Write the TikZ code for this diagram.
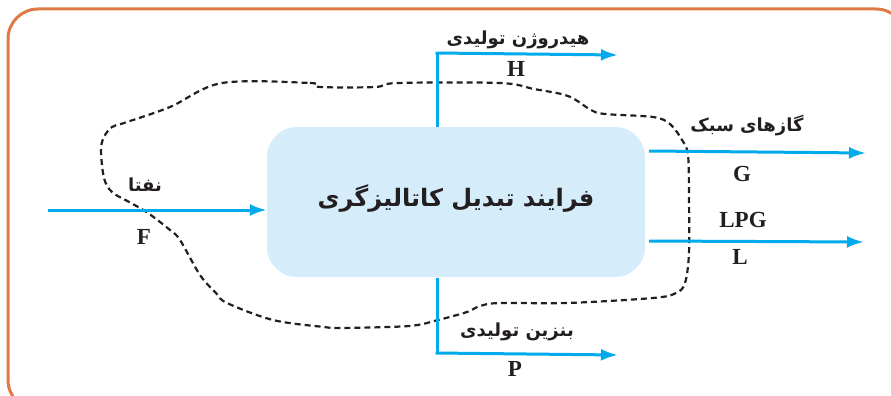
\documentclass[tikz,border=0pt]{standalone}
\usepackage{fontspec}
\setmainfont{Liberation Serif}
\newfontfamily\arabicfont[Script=Arabic]{DejaVu Sans}
\newfontfamily\arabicbold[Script=Arabic]{DejaVu Sans Bold}
\TeXXeTstate=1
\usetikzlibrary{arrows.meta}
\definecolor{frameorange}{RGB}{224,122,68}
\definecolor{boxblue}{RGB}{213,236,250}
\definecolor{flowcyan}{RGB}{0,170,235}
\definecolor{txt}{RGB}{35,31,32}
\tikzset{
  flow/.style={draw=flowcyan, line width=3pt, -{Latex[length=17pt,width=12pt]}},
  flowline/.style={draw=flowcyan, line width=3pt},
  fatxt/.style={text=txt, font=\arabicbold\fontsize{18}{22}\selectfont, inner sep=0pt},
  latxt/.style={text=txt, font=\bfseries\fontsize{23}{26}\selectfont, inner sep=0pt},
  boundary/.style={draw=txt, line width=2.2pt, dash pattern=on 6pt off 4pt},
}
\begin{document}
\begin{tikzpicture}[x=1pt,y=-1pt]
\useasboundingbox (0,0) rectangle (891,396);
\begin{scope}
\clip (0,0) rectangle (891,396);
\draw[frameorange, line width=3pt, rounded corners=30pt] (8,9) rectangle (906,410);
\end{scope}
% process box
\node[fill=boxblue, rounded corners=30pt, minimum width=378pt, minimum height=150pt, inner sep=0pt] (box) at (456,202) {};
\node[text=txt, font=\arabicbold\fontsize{24}{28}\selectfont, inner sep=0pt] (boxtxt) at (456,199) {\beginR فرایند تبدیل کاتالیزگری\endR};
% dashed control boundary
\draw[boundary] plot[smooth cycle, tension=0.55] coordinates {
 (222,83) (310,83) (320,87) (375,87) (398,83) (500,83) (534,89) (568,96)
 (591,110) (605,114) (653,117) (670,124) (682,140) (688,155) (689,200)
 (689,253) (685,283) (676,293) (653,298) (567,303) (500,303) (480,306)
 (467,312) (438,320) (409,326) (341,328) (324,327) (273,320) (227,303)
 (216,293) (200,275) (180,240) (170,230) (148,213) (131,203) (112,192)
 (104,178) (101,150) (104,137) (112,127) (124,123) (170,107) };
% feed
\coordinate (fin) at (48,210);
\draw[flow] (fin) -- (box.west |- fin);
\node[fatxt] (naphtha) at (145,185) {\beginR نفتا\endR};
\node[latxt] (F) at (144,237) {F};
% hydrogen
\coordinate (hbot) at (437,127);
\coordinate (hcorner) at (437,53);
\coordinate (hend) at (618,55);
\draw[flowline] (hbot) -- (hcorner);
\draw[flow] ([xshift=-1.5pt]hcorner) -- (hend);
\node[fatxt] (hyd) at (518,40) {\beginR هیدروژن تولیدی\endR};
\node[latxt] (H) at (516,69) {H};
% gasoline
\coordinate (ptop) at (437,278);
\coordinate (pcorner) at (437,353);
\coordinate (pend) at (618,355);
\draw[flowline] (ptop) -- (pcorner);
\draw[flow] ([xshift=-1.5pt]pcorner) -- (pend);
\node[fatxt] (gas) at (517,332) {\beginR بنزین تولیدی\endR};
\node[latxt] (P) at (515,369) {P};
% light gases
\coordinate (gstart) at (649,151);
\coordinate (gend) at (866,153);
\draw[flow] (gstart) -- (gend);
\node[fatxt] (light) at (747,126) {\beginR گازهای سبک\endR};
\node[latxt] (G) at (742,174) {G};
% LPG
\coordinate (lstart) at (649,241);
\coordinate (lend) at (864,242);
\draw[flow] (lstart) -- (lend);
\node[latxt] (LPG) at (743,220) {LPG};
\node[latxt] (L) at (740,257) {L};
\end{tikzpicture}
\end{document}
